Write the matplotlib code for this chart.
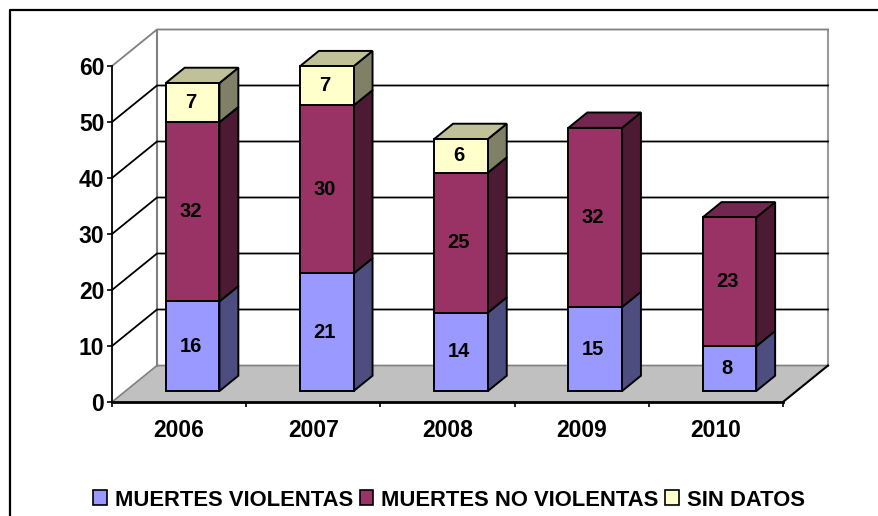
import matplotlib

matplotlib.use("Agg")
import matplotlib.pyplot as plt
from matplotlib.lines import Line2D
from matplotlib.patches import Patch, Polygon

years = ["2006", "2007", "2008", "2009", "2010"]
violentas = [16, 21, 14, 15, 8]
no_violentas = [32, 30, 25, 32, 23]
sin_datos = [7, 7, 6, 0, 0]
y_ticks = [0, 10, 20, 30, 40, 50, 60]

series_names = ["MUERTES VIOLENTAS", "MUERTES NO VIOLENTAS", "SIN DATOS"]
front_colors = ["#9999FF", "#993366", "#FFFFCC"]
side_colors = ["#4D4D80", "#4D1A33", "#808066"]
top_colors = ["#7373C0", "#732650", "#C0C099"]

W, H = 879, 516
DEPTH_X = 45 / 134.2
DEPTH_Y = 36.5 / 5.6
BAR_W = 0.4
BAR_FRONT = 0.3
BAR_BACK = 0.72


def proj(x, v, d):
    # oblique projection, d=0 front of the floor, d=1 back wall
    return (x + d * DEPTH_X, v + d * DEPTH_Y)


def face(ax, points, color, z, edge="black", lw=1.4):
    ax.add_patch(Polygon(points, closed=True, facecolor=color, edgecolor=edge,
                         lw=lw, zorder=z, clip_on=False, joinstyle="miter"))


def main():
    plt.rcParams["font.family"] = ["Liberation Sans", "DejaVu Sans"]
    plt.rcParams["font.weight"] = "bold"

    fig = plt.figure(figsize=(W / 100, H / 100), dpi=100, facecolor="white")
    ax = fig.add_axes([112 / W, 1 - 402 / H, 671 / W, 336 / H])
    ax.set_xlim(0, len(years))
    ax.set_ylim(0, 60)
    ax.patch.set_visible(False)

    # outer frame runs off the right and bottom edge of the picture
    fig.add_artist(Line2D([10 / W, 10 / W, 1], [0, 1 - 10 / H, 1 - 10 / H],
                          color="black", lw=1.6))

    n = len(years)
    face(ax, [proj(0, 0, 0), proj(n, 0, 0), proj(n, 0, 1), proj(0, 0, 1)],
         "#C0C0C0", 1, edge="none", lw=0)

    wall = "#808080"
    ax.plot(*zip(proj(0, 0, 0), proj(0, 0, 1), proj(n, 0, 1)), color=wall, lw=1.2,
            zorder=2, clip_on=False)
    ax.plot(*zip(proj(0, 0, 1), proj(0, 60, 1)), color=wall, lw=1.5, zorder=2, clip_on=False)
    ax.plot(*zip(proj(n, 0, 1), proj(n, 60, 1)), color="#999999", lw=1.5, zorder=2, clip_on=False)
    ax.plot(*zip(proj(n, 0, 0), proj(n, 0, 1)), color="black", lw=1.5, zorder=2, clip_on=False)

    for v in y_ticks[1:]:
        color = wall if v == 60 else "black"
        ax.plot(*zip(proj(0, v, 0), proj(0, v, 1), proj(n, v, 1)), color=color, lw=1.3,
                zorder=2, clip_on=False)

    for i in range(n):
        left = i + 0.5 - BAR_W / 2
        right = i + 0.5 + BAR_W / 2
        base = 0
        stack = [violentas[i], no_violentas[i], sin_datos[i]]
        top_k = max(k for k, val in enumerate(stack) if val > 0)
        for k, val in enumerate(stack):
            if val == 0:
                continue
            tip = base + val
            face(ax, [proj(left, base, BAR_FRONT), proj(right, base, BAR_FRONT),
                      proj(right, tip, BAR_FRONT), proj(left, tip, BAR_FRONT)],
                 front_colors[k], 5)
            face(ax, [proj(right, base, BAR_FRONT), proj(right, base, BAR_BACK),
                      proj(right, tip, BAR_BACK), proj(right, tip, BAR_FRONT)],
                 side_colors[k], 4)
            if k == top_k:
                face(ax, [proj(left, tip, BAR_FRONT), proj(right, tip, BAR_FRONT),
                          proj(right, tip, BAR_BACK), proj(left, tip, BAR_BACK)],
                     top_colors[k], 4)
            cx, cy = proj(i + 0.5, base + val / 2, BAR_FRONT)
            ax.text(cx - 0.015, cy, str(val), ha="center", va="center", fontsize=14.5,
                    color="black", zorder=6)
            base = tip

    for side in ["top", "right"]:
        ax.spines[side].set_visible(False)
    ax.spines["left"].set_linewidth(1.3)
    ax.spines["bottom"].set_linewidth(2)
    ax.spines["left"].set_zorder(3)
    ax.spines["bottom"].set_zorder(3)

    ax.set_yticks(y_ticks)
    ax.tick_params(axis="y", length=3.5, width=1.2, pad=2, labelsize=16.5)
    ax.set_xticks(range(n + 1))
    ax.set_xticklabels([])
    ax.tick_params(axis="x", which="major", length=3.5, width=1.2)
    ax.set_xticks([i + 0.5 for i in range(n)], minor=True)
    ax.set_xticklabels(years, minor=True, fontsize=16.5)
    ax.tick_params(axis="x", which="minor", length=0, pad=12)

    handles = [Patch(facecolor=c, edgecolor="black", lw=1.2) for c in front_colors]
    fig.legend(handles, series_names, loc="center", bbox_to_anchor=(449 / W, 1 - 500 / H),
               ncol=3, frameon=False, fontsize=15.8, handlelength=0.62, handleheight=0.65,
               handletextpad=0.36, columnspacing=0.3, borderpad=0, borderaxespad=0)

    fig.savefig("out.png", dpi=100, facecolor="white")


if __name__ == "__main__":
    main()
